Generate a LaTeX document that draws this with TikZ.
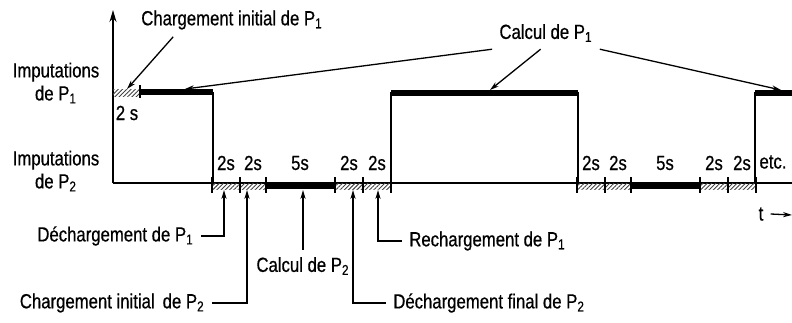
\documentclass[tikz,border=0pt]{standalone}
\usepackage{fontspec}
\setmainfont{Liberation Sans}[FakeStretch=0.82,FakeBold=0.6]
\usetikzlibrary{arrows.meta,calc,patterns.meta}

\begin{document}
\begin{tikzpicture}[x=0.5pt,y=-0.5pt,>={Stealth[length=4.5pt,width=2.6pt]},
  line width=0.65pt,font=\fontsize{10.2}{11.5}\selectfont,
  hatch/.style={pattern={Lines[angle=45,distance=1.5pt,line width=0.45pt]},pattern color=black!75},
  busy/.style={fill=black}]
\useasboundingbox (0,0) rectangle (792,322);

% axe et niveaux
\coordinate (o) at (113,183);
\draw[-{Stealth[length=6pt,width=3.5pt]}] (o) -- (113,10);
\draw (o) -- (792,183);
\node[align=center] (imp1) at (56,83) {Imputations\\de P\textsubscript{1}};
\node[align=center] (imp2) at (56,171) {Imputations\\de P\textsubscript{2}};

% P1
\fill[hatch] (113,89) rectangle (140,96);
\draw (140,85) -- (140,98);
\fill[busy] (140,89) rectangle (213,95);
\fill[busy] (391,90) rectangle (578,96);
\fill[busy] (755,90) rectangle (792,96);
\foreach \x in {213,391,578,755} \draw (\x,92) -- (\x,183);
\node (d0) at (127,113) {2 s};

% P2, deux cycles
\foreach \o in {0,365} {
  \fill[hatch] (212+\o,183) rectangle (266+\o,189);
  \fill[busy] (266+\o,183) rectangle (335+\o,189);
  \fill[hatch] (335+\o,183) rectangle (391+\o,189);
  \foreach \x in {212,240,266,335,363,391} \draw (\x+\o,177) -- (\x+\o,193);
  \foreach \x/\d in {226/2s,253/2s,300/5s,349/2s,377/2s}
    \node at (\x+\o,163) {\d};
}
\node (etc) at (773,162) {etc.};
\node (t) at (761,214) {t};
\coordinate (tend) at (792,215);
\draw[->] (t.east) -- (tend);

% renvois du haut
\node (chi1) at (232,20) {Chargement initial de P\textsubscript{1}};
\node (cal1) at (546,33) {Calcul de P\textsubscript{1}};
\coordinate (h1) at (127,89);
\coordinate (b1) at (185,89);
\coordinate (b2) at (490,90);
\coordinate (b3) at (781,90);
\draw[->] ($(chi1.south west)!0.2!(chi1.south east)$) -- (h1);
\draw[->] (cal1.south west) -- (b1);
\draw[->] ($(cal1.south west)!0.45!(cal1.south east)$) -- (b2);
\draw[->] (cal1.south east) -- (b3);

% renvois du bas
\foreach \n/\x in {a1/224,a2/247,a3/303,a4/353,a5/378}
  \coordinate (\n) at (\x,190);
\node[anchor=east] (dech1) at (201,236) {Déchargement de P\textsubscript{1}};
\node[anchor=east] (chi2) at (212,303) {Chargement initial\, de P\textsubscript{2}};
\node (cal2) at (303,266) {Calcul de P\textsubscript{2}};
\node[anchor=west] (rech1) at (402,241) {Rechargement de P\textsubscript{1}};
\node[anchor=west] (dechf2) at (386,303) {Déchargement final de P\textsubscript{2}};
\draw[->] (dech1.east) -| (a1);
\draw[->] (chi2.east) -| (a2);
\draw[->] (cal2.north) -- (a3);
\draw[->] (dechf2.west) -| (a4);
\draw[->] (rech1.west) -| (a5);
\end{tikzpicture}
\end{document}
